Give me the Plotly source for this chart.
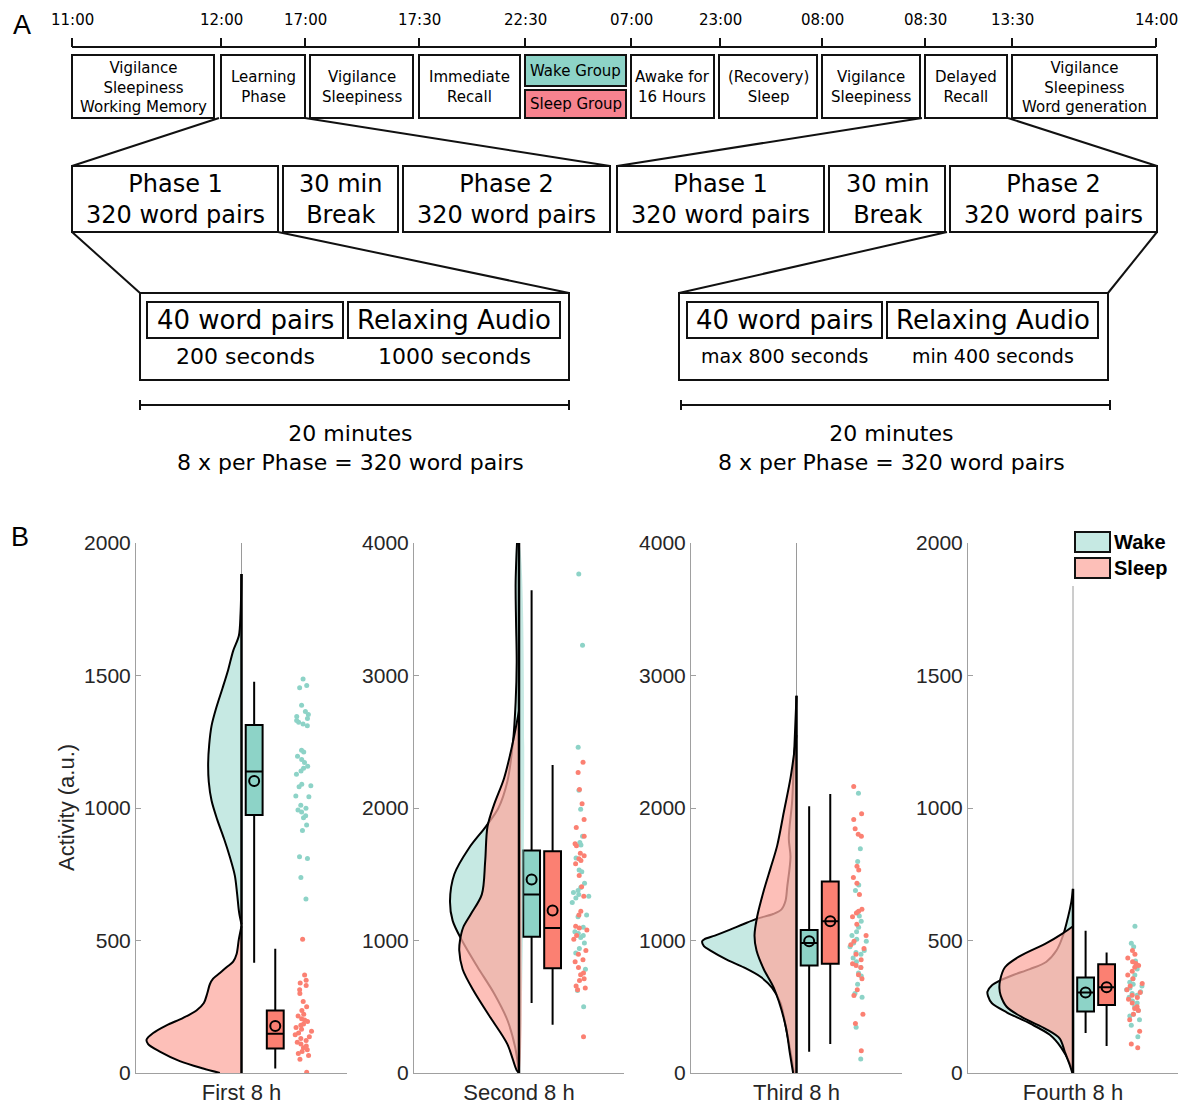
import plotly.graph_objects as go

FIG_W, FIG_H = 1186, 1106


def fx(px):
    return px / FIG_W


def fy(py):
    return 1 - py / FIG_H


# ============================ Panel A: study schedule ============================
clock_times = ["11:00", "12:00", "17:00", "17:30", "22:30", "07:00",
               "23:00", "08:00", "08:30", "13:30", "14:00"]
session_labels = ["Vigilance<br>Sleepiness<br>Working Memory", "Learning<br>Phase",
                  "Vigilance<br>Sleepiness", "Immediate<br>Recall", "Awake for<br>16 Hours",
                  "(Recovery)<br>Sleep", "Vigilance<br>Sleepiness", "Delayed<br>Recall",
                  "Vigilance<br>Sleepiness<br>Word generation"]
group_labels = ["Wake Group", "Sleep Group"]
phase_labels = ["Phase 1<br>320 word pairs", "30 min<br>Break", "Phase 2<br>320 word pairs"]
block_labels = ["40 word pairs", "Relaxing Audio"]
learning_durations = ["200 seconds", "1000 seconds"]
recall_durations = ["max 800 seconds", "min 400 seconds"]
block_summary = "20 minutes<br>8 x per Phase = 320 word pairs"

# ============================ Panel B: activity data ============================
periods = ["First 8 h", "Second 8 h", "Third 8 h", "Fourth 8 h"]
axis_max = [2000, 4000, 4000, 2000]
axis_step = [500, 1000, 1000, 500]

wake_values = [
    [1487, 1462, 1454, 1388, 1364, 1353, 1345, 1338, 1330, 1324, 1317, 1310, 1218, 1211,
     1195, 1183, 1172, 1158, 1150, 1140, 1127, 1090, 1084, 1080, 1045, 1042, 1010, 999,
     992, 985, 971, 963, 936, 915, 816, 809, 738, 657],
    [3766, 3228, 2459, 2134, 1990, 1787, 1739, 1720, 1623, 1532, 1518, 1433, 1400, 1377,
     1363, 1348, 1334, 1320, 1286, 1193, 1179, 1100, 1066, 1052, 1037, 1023, 981, 939,
     905, 783, 622, 500],
    [2112, 1693, 1597, 1419, 1377, 1213, 1185, 1145, 1100, 1066, 1037, 1009, 995, 981,
     953, 924, 910, 896, 868, 840, 797, 755, 732, 670, 600, 571, 345, 105],
    [554, 490, 476, 423, 392, 370, 356, 342, 335, 328, 321, 314, 307, 300, 293, 286, 272,
     264, 250, 236, 222, 215, 201, 180, 137],
]
sleep_values = [
    [505, 370, 350, 340, 330, 314, 300, 270, 250, 236, 222, 215, 205, 200, 194, 185, 180,
     172, 165, 158, 151, 144, 137, 130, 123, 116, 109, 102, 95, 88, 81, 74, 66, 52, 3],
    [2346, 2267, 2140, 2033, 1914, 1852, 1787, 1730, 1716, 1659, 1640, 1617, 1603, 1580,
     1490, 1405, 1334, 1221, 1193, 1108, 1094, 1080, 1037, 1009, 924, 896, 854, 840, 797,
     755, 741, 712, 698, 656, 642, 628, 274],
    [2163, 1956, 1914, 1843, 1801, 1787, 1560, 1532, 1476, 1433, 1348, 1235, 1221, 1207,
     1179, 1122, 1037, 995, 967, 939, 896, 854, 825, 811, 797, 741, 712, 628, 585, 444,
     373, 167],
    [462, 448, 434, 420, 413, 406, 399, 384, 370, 356, 338, 328, 314, 304, 293, 285, 278,
     264, 250, 243, 236, 222, 201, 158, 109, 95],
]

# box-plot summaries per period
wake_q1 = [974, 1029, 811, 232]
wake_median = [1138, 1348, 981, 304]
wake_q3 = [1313, 1679, 1080, 360]
wake_low = [416, 529, 161, 151]
wake_high = [1476, 3644, 2013, 537]
wake_mean = [1102, 1461, 995, 304]

sleep_q1 = [92, 791, 825, 257]
sleep_median = [148, 1094, 1145, 324]
sleep_q3 = [236, 1673, 1445, 410]
sleep_low = [17, 365, 218, 102]
sleep_high = [469, 2324, 2106, 455]
sleep_mean = [177, 1227, 1145, 324]

# half-violin density profiles (activity level, scaled density), bottom to top
wake_cloud_level = [
    [561, 604, 674, 745, 816, 886, 957, 1028, 1098, 1169, 1240, 1310, 1381, 1452, 1522,
     1593, 1650, 1734, 1883],
    [0, 200, 400, 600, 800, 1000, 1150, 1300, 1500, 1700, 1860, 2000, 2200, 2500, 2800,
     3100, 3400, 3700, 4000],
    [0, 161, 359, 529, 642, 726, 797, 854, 924, 958, 995, 1010, 1037, 1080, 1123, 1165,
     1200, 1235, 1300, 1405, 1631, 1772, 2055, 2479, 2847],
    [0, 38, 95, 144, 187, 229, 264, 290, 307, 330, 349, 370, 392, 420, 462, 519, 589, 646, 695],
]
wake_cloud_density = [
    [0, .022, .041, .063, .111, .167, .231, .284, .310, .316, .306, .284, .237, .180, .126,
     .079, .025, .009, 0],
    [0, .038, .111, .237, .395, .543, .632, .657, .616, .474, .316, .196, .111, .057, .032,
     .022, .028, .032, .019],
    [.025, .057, .104, .152, .231, .341, .499, .657, .815, .878, .894, .872, .774, .635, .506,
     .373, .221, .142, .104, .088, .057, .073, .041, .019, 0],
    [0, .032, .111, .221, .411, .632, .774, .809, .815, .774, .695, .569, .411, .253, .158,
     .095, .047, .016, 0],
]
sleep_cloud_level = [
    [0, 17, 45, 81, 109, 126, 151, 180, 208, 236, 264, 300, 335, 356, 377, 399, 420, 448, 505, 554],
    [0, 20, 218, 415, 613, 783, 924, 1000, 1100, 1200, 1348, 1600, 1860, 2027, 2225, 2479, 2733],
    [0, 150, 359, 642, 783, 924, 1037, 1179, 1377, 1546, 1716, 1970, 2225, 2451, 2550],
    [0, 31, 81, 130, 165, 208, 250, 293, 320, 349, 399, 441, 490, 526, 554],
]
sleep_cloud_density = [
    [.205, .363, .585, .774, .885, .900, .837, .711, .553, .427, .357, .325, .300, .269,
     .205, .142, .079, .047, .025, 0],
    [0, .022, .111, .269, .427, .537, .569, .562, .531, .458, .354, .322, .300, .237, .142, .063, 0],
    [.032, .063, .104, .215, .310, .379, .398, .373, .310, .246, .183, .120, .057, .016, 0],
    [.006, .032, .079, .126, .253, .474, .632, .689, .701, .695, .648, .506, .253, .101, 0],
]

# ------------------------------- styling -------------------------------
WAKE = "#8DD3C7"
SLEEP = "#FB8072"
WAKE_CLOUD = "rgba(141,211,199,0.5)"
SLEEP_CLOUD = "rgba(252,170,160,0.75)"
WAKE_PATCH = "#C6E9E3"
SLEEP_PATCH = "#FDBFB8"
GROUP_SLEEP = "#F7838F"
AXIS_GREY = "#a0a0a0"
TEXT_DARK = "#262626"
SANS = "Liberation Sans, Arial, sans-serif"
DIAGRAM = "DejaVu Sans, Verdana, sans-serif"
INK = "#111111"

BOX_WAKE_X, BOX_SLEEP_X, RAIN_X = 0.12, 0.32, 0.59
BOX_W, RAIN_W = 0.16, 0.17

panel_px = [(136, 347), (414, 624), (691, 902), (968, 1178)]
panel_top, panel_bottom = 543, 1073

shapes, annotations = [], []


def rect(x0, y0, x1, y1, fill="white", width=2):
    shapes.append(dict(type="rect", xref="paper", yref="paper",
                       x0=fx(x0), x1=fx(x1), y0=fy(y1), y1=fy(y0),
                       line=dict(color=INK, width=width), fillcolor=fill, layer="above"))


def seg(x0, y0, x1, y1, width=2):
    shapes.append(dict(type="line", xref="paper", yref="paper",
                       x0=fx(x0), y0=fy(y0), x1=fx(x1), y1=fy(y1),
                       line=dict(color=INK, width=width), layer="above"))


def label(x, y, s, size, family=DIAGRAM, color="black", xanchor="center", **kw):
    annotations.append(dict(xref="paper", yref="paper", x=fx(x), y=fy(y), text=s,
                            showarrow=False, xanchor=xanchor, yanchor="middle",
                            font=dict(size=size, family=family, color=color), **kw))


# ------------------------------- Panel A drawing -------------------------------
label(22, 25, "A", 27, family=SANS)

tick_x = [72, 221, 305, 419, 525, 631, 720, 822, 925, 1012, 1156]
seg(tick_x[0], 47, tick_x[-1], 47)
for tx, t in zip(tick_x, clock_times):
    seg(tx, 38, tx, 47)
    label(tx, 20, t, 15)

session_x0 = [72, 221, 310, 419, 631, 719, 822, 925, 1012]
session_x1 = [214, 305, 413, 520, 714, 817, 920, 1007, 1157]
row1_top, row1_bot = 55, 118
for x0, x1, s in zip(session_x0, session_x1, session_labels):
    rect(x0, row1_top, x1, row1_bot)
    label((x0 + x1) / 2, (row1_top + row1_bot) / 2 + 1, s, 15)

rect(525, 55, 626, 86, fill=WAKE)
rect(525, 90, 626, 118, fill=GROUP_SLEEP)
label(575.5, 71, group_labels[0], 15)
label(575.5, 104, group_labels[1], 15)

row2_top, row2_bot = 166, 232
phase_rows = [[(72, 278), (283, 398), (403, 610)], [(617, 824), (829, 945), (950, 1157)]]
for row in phase_rows:
    for (x0, x1), s in zip(row, phase_labels):
        rect(x0, row2_top, x1, row2_bot)
        label((x0 + x1) / 2, (row2_top + row2_bot) / 2, s, 24)

# zoom connectors
seg(219, 118, 72, 166)
seg(305, 118, 610, 166)
seg(922, 118, 617, 166)
seg(1008, 118, 1157, 166)
seg(72, 232, 140, 293)
seg(278, 232, 569, 293)
seg(947, 232, 679, 293)
seg(1157, 232, 1108, 293)

detail_boxes = [(140, 569, [(147, 343), (348, 560)], learning_durations, 22),
                (679, 1108, [(687, 882), (887, 1098)], recall_durations, 19)]
for ox0, ox1, inner, durations, dsize in detail_boxes:
    rect(ox0, 293, ox1, 380)
    for (ix0, ix1), s, d in zip(inner, block_labels, durations):
        rect(ix0, 302, ix1, 338)
        label((ix0 + ix1) / 2, 320, s, 26)
        label((ix0 + ix1) / 2, 356, d, dsize)

for bx0, bx1 in [(140, 569), (681, 1110)]:
    seg(bx0, 405, bx1, 405)
    seg(bx0, 400, bx0, 410)
    seg(bx1, 400, bx1, 410)
    label((bx0 + bx1) / 2 - 4, 448, block_summary, 22)

# ------------------------------- Panel B drawing -------------------------------
label(20, 537, "B", 27, family=SANS)
label(66, 808, "Activity (a.u.)", 22, family=SANS, color=TEXT_DARK, textangle=-90)

fig = go.Figure()
layout_axes = {}


def cloud(levels, density, fillcolor, xa, ya):
    xs = [-d for d in density]
    fig.add_trace(go.Scatter(
        x=xs + [0, 0], y=levels + [levels[-1], levels[0]], xaxis=xa, yaxis=ya,
        mode="lines", fill="toself", fillcolor=fillcolor,
        line=dict(width=0, shape="spline", smoothing=0.9), hoverinfo="skip"))
    fig.add_trace(go.Scatter(
        x=xs, y=levels, xaxis=xa, yaxis=ya, mode="lines",
        line=dict(color="black", width=2, shape="spline", smoothing=0.9), hoverinfo="skip"))


for i in range(4):
    sfx = "" if i == 0 else str(i + 1)
    xa, ya = "x" + sfx, "y" + sfx

    # thin guide at the cloud baseline
    fig.add_trace(go.Scatter(x=[0, 0], y=[0, axis_max[i]], xaxis=xa, yaxis=ya, mode="lines",
                             line=dict(color="#9a9a9a", width=1), hoverinfo="skip"))

    cloud(wake_cloud_level[i], wake_cloud_density[i], WAKE_CLOUD, xa, ya)
    cloud(sleep_cloud_level[i], sleep_cloud_density[i], SLEEP_CLOUD, xa, ya)

    lo = min(wake_cloud_level[i][0], sleep_cloud_level[i][0])
    hi = max(wake_cloud_level[i][-1], sleep_cloud_level[i][-1])
    fig.add_trace(go.Scatter(x=[0, 0], y=[lo, hi], xaxis=xa, yaxis=ya, mode="lines",
                             line=dict(color="black", width=2.5), hoverinfo="skip"))

    for pos, fill, q1, med, q3, lw, hw, mn in [
        (BOX_WAKE_X, WAKE, wake_q1, wake_median, wake_q3, wake_low, wake_high, wake_mean),
        (BOX_SLEEP_X, SLEEP, sleep_q1, sleep_median, sleep_q3, sleep_low, sleep_high, sleep_mean),
    ]:
        fig.add_trace(go.Box(
            x=[pos], q1=[q1[i]], median=[med[i]], q3=[q3[i]],
            lowerfence=[lw[i]], upperfence=[hw[i]], width=BOX_W,
            fillcolor=fill, line=dict(color="black", width=2), whiskerwidth=0,
            boxpoints=False, xaxis=xa, yaxis=ya, hoverinfo="skip"))
        fig.add_trace(go.Scatter(
            x=[pos], y=[mn[i]], xaxis=xa, yaxis=ya, mode="markers",
            marker=dict(symbol="circle-open", size=10, color="black", line=dict(width=2)),
            hoverinfo="skip"))

    for vals, col in [(wake_values[i], WAKE), (sleep_values[i], SLEEP)]:
        fig.add_trace(go.Box(
            y=vals, x0=RAIN_X, width=RAIN_W, boxpoints="all", jitter=1, pointpos=0,
            fillcolor="rgba(0,0,0,0)", line=dict(color="rgba(0,0,0,0)", width=0),
            whiskerwidth=0, marker=dict(color=col, size=5), xaxis=xa, yaxis=ya,
            hoverinfo="skip"))

    x0p, x1p = panel_px[i]
    layout_axes["xaxis" + sfx] = dict(
        domain=[fx(x0p), fx(x1p)], range=[-1, 1], type="linear", anchor=ya,
        showline=True, linecolor=AXIS_GREY, linewidth=1, ticks="",
        tickvals=[0], ticktext=[periods[i]],
        tickfont=dict(size=22, family=SANS, color=TEXT_DARK),
        showgrid=False, zeroline=False)
    layout_axes["yaxis" + sfx] = dict(
        domain=[fy(panel_bottom), fy(panel_top)], range=[0, axis_max[i]], anchor=xa,
        showline=True, linecolor=AXIS_GREY, linewidth=1, ticks="inside", ticklen=5,
        tickcolor=AXIS_GREY, tickvals=list(range(0, axis_max[i] + 1, axis_step[i])),
        tickfont=dict(size=21, family=SANS, color=TEXT_DARK),
        showgrid=False, zeroline=False)

# legend for the two groups
shapes.append(dict(type="rect", xref="paper", yref="paper", x0=fx(1066), x1=fx(1176),
                   y0=fy(586), y1=fy(526), line=dict(width=0), fillcolor="white", layer="above"))
rect(1075, 532, 1110, 552, fill=WAKE_PATCH)
rect(1075, 558, 1110, 578, fill=SLEEP_PATCH)
label(1112, 542, "<b>Wake</b>", 20, family=SANS, xanchor="left")
label(1112, 568, "<b>Sleep</b>", 20, family=SANS, xanchor="left")

fig.update_layout(
    width=FIG_W, height=FIG_H,
    margin=dict(l=0, r=0, t=0, b=0, pad=0, autoexpand=False),
    paper_bgcolor="white", plot_bgcolor="white", showlegend=False,
    boxmode="overlay", shapes=shapes, annotations=annotations, **layout_axes)

fig.write_html("out.html")
